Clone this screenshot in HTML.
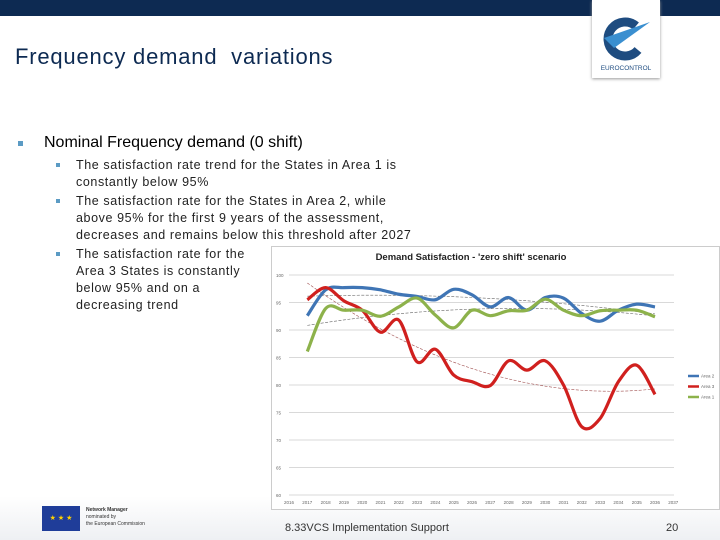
<!DOCTYPE html>
<html><head><meta charset="utf-8"><style>
body{margin:0;width:720px;height:540px;overflow:hidden;background:#fff;font-family:"Liberation Sans",sans-serif;position:relative}
.abs{position:absolute}
</style></head><body>
<div class="abs" style="left:0;top:0;width:592px;height:16px;background:#0d2a52"></div>
<div class="abs" style="left:660px;top:0;width:60px;height:16px;background:#0d2a52"></div>
<div class="abs" style="left:592px;top:0;width:68px;height:78px;background:#fff;box-shadow:0 1px 3px #999">
<svg width="68" height="78" viewBox="0 0 68 78"><path d="M44 26 A17 17 0 1 0 46 50" fill="none" stroke="#1e4c80" stroke-width="9"/><polygon points="12,38 58,22 22,48" fill="#3a8fd0"/><text x="34" y="70" font-size="6.5" text-anchor="middle" fill="#1e4c80" font-family="Liberation Sans">EUROCONTROL</text></svg></div>
<div class="abs" style="left:15px;top:44px;font-size:22px;letter-spacing:0.8px;color:#0d2a52">Frequency demand&nbsp; variations</div>
<div class="abs" style="left:18px;top:141px;width:5px;height:5px;background:#5b9bc4"></div>
<div class="abs" style="left:44px;top:134px;font-size:16px;color:#000">Nominal Frequency demand (0 shift)</div>
<div class="abs" style="left:56px;top:157px;font-size:12.5px;line-height:17px;color:#222;letter-spacing:0.6px;white-space:nowrap">
<div style="position:relative;padding-left:20px"><span style="position:absolute;left:0;top:6px;width:4px;height:4px;background:#5b9bc4"></span>The satisfaction rate trend for the States in Area 1 is<br>constantly below 95%</div>
<div style="position:relative;padding-left:20px;margin-top:2px"><span style="position:absolute;left:0;top:6px;width:4px;height:4px;background:#5b9bc4"></span>The satisfaction rate for the States in Area 2, while<br>above 95% for the first 9 years of the assessment,<br>decreases and remains below this threshold after 2027</div>
<div style="position:relative;padding-left:20px;margin-top:2px"><span style="position:absolute;left:0;top:6px;width:4px;height:4px;background:#5b9bc4"></span>The satisfaction rate for the<br>Area 3 States is constantly<br>below 95% and on a<br>decreasing trend</div>
</div>
<svg class="abs" style="left:271px;top:246px" width="449" height="264" id="chart"></svg>
<div class="abs" style="left:0;top:496px;width:720px;height:44px;background:linear-gradient(#fff,#eef0f3);z-index:-1"></div>
<div class="abs" style="left:42px;top:506px;width:38px;height:25px;background:#1f3d99;color:#ffd200;font-size:7px;text-align:center;line-height:25px">★ ★ ★</div>
<div class="abs" style="left:86px;top:507px;font-size:5px;line-height:7px;color:#333"><b>Network Manager</b><br>nominated by<br>the European Commission</div>
<div class="abs" style="left:285px;top:522px;font-size:11px;color:#333">8.33VCS Implementation Support</div>
<div class="abs" style="left:666px;top:522px;font-size:11px;color:#333">20</div>
<script>
const years=[2016,2017,2018,2019,2020,2021,2022,2023,2024,2025,2026,2027,2028,2029,2030,2031,2032,2033,2034,2035,2036,2037];
const dataYears=[2017,2018,2019,2020,2021,2022,2023,2024,2025,2026,2027,2028,2029,2030,2031,2032,2033,2034,2035,2036];
const area2=[92.6,97.3,97.7,97.7,97.3,96.5,96.1,95.5,97.4,96.4,94.2,95.9,93.6,95.9,95.8,93,91.6,93.6,94.7,94.2];
const area3=[95.5,97.7,95.3,93.6,89.6,91.8,84.2,86.5,81.8,80.6,79.9,84.4,82.7,84.4,80,72.4,73.9,80.6,83.6,78.3];
const area1=[86.1,93.9,93.6,93.6,92.5,94.2,95.8,92.7,90.4,93.6,92.6,93.5,93.6,95.6,93.6,92.6,93.5,93.6,93.6,92.4];
const yTicks=[60,65,70,75,80,85,90,95,100];
const seriesNames=["Area 2","Area 3","Area 1"];
const NS="http://www.w3.org/2000/svg",svg=document.getElementById('chart');
const X=y=>18+(y-2016)*18.3, Y=v=>29+(100-v)*5.5;
function el(t,a,p){const e=document.createElementNS(NS,t);for(const k in a)e.setAttribute(k,a[k]);(p||svg).appendChild(e);return e;}
const frame=el('rect',{x:0.5,y:0.5,width:448,height:263,fill:'#fff',stroke:'#ccc'});


const title=el('text',{x:200,y:14,'font-size':9.5,'font-weight':'bold','text-anchor':'middle',fill:'#222'});title.textContent="Demand Satisfaction - 'zero shift' scenario";


yTicks.forEach(v=>{const g=el('line',{x1:18,x2:403,y1:Y(v),y2:Y(v),stroke:'#ccc','stroke-width':0.7});


const t=el('text',{x:5,y:Y(v)+2,'font-size':4.5,fill:'#666'});t.textContent=v;

});
years.forEach(y=>{const t=el('text',{x:X(y),y:Y(60)+9,'font-size':4.5,fill:'#666','text-anchor':'middle'});t.textContent=y;

});
function smooth(pts){let d=`M${pts[0][0]},${pts[0][1]}`;for(let i=0;i<pts.length-1;i++){const p0=pts[i-1]||pts[i],p1=pts[i],p2=pts[i+1],p3=pts[i+2]||p2;d+=` C${p1[0]+(p2[0]-p0[0])/6},${p1[1]+(p2[1]-p0[1])/6} ${p2[0]-(p3[0]-p1[0])/6},${p2[1]-(p3[1]-p1[1])/6} ${p2[0]},${p2[1]}`;}return d;}
function fit(vals){const n=vals.length,xs=vals.map((_,i)=>i);let S=[0,0,0,0,0],T=[0,0,0];xs.forEach((x,i)=>{for(let k=0;k<5;k++)S[k]+=x**k;for(let k=0;k<3;k++)T[k]+=vals[i]*x**k;});
const A=[[S[0],S[1],S[2],T[0]],[S[1],S[2],S[3],T[1]],[S[2],S[3],S[4],T[2]]];for(let i=0;i<3;i++){for(let j=i+1;j<3;j++){const f=A[j][i]/A[i][i];for(let k=i;k<4;k++)A[j][k]-=f*A[i][k];}}
const c=[0,0,0];for(let i=2;i>=0;i--){let s=A[i][3];for(let k=i+1;k<3;k++)s-=A[i][k]*c[k];c[i]=s/A[i][i];}return xs.map(x=>c[0]+c[1]*x+c[2]*x*x);}
const cols=['#3f75b5','#d0201e','#8db24b'];
[area2,area3,area1].forEach((s,i)=>{
const tr=el('path',{d:smooth(fit(s).map((v,j)=>[X(dataYears[j]),Y(v)])),fill:'none',stroke:i==1?'#a05050':'#666','stroke-width':0.6,'stroke-dasharray':'3,1.5'});


});
[area2,area3,area1].forEach((s,i)=>{
const p=el('path',{d:smooth(s.map((v,j)=>[X(dataYears[j]),Y(v)])),fill:'none',stroke:cols[i],'stroke-width':3.2});


const ly=130+i*10.5;
const l=el('line',{x1:417,x2:428,y1:ly,y2:ly,stroke:cols[i],'stroke-width':2.5});


const t=el('text',{x:430,y:ly+1.5,'font-size':4.5,fill:'#666'});t.textContent=seriesNames[i];


});
</script>
</body></html>
